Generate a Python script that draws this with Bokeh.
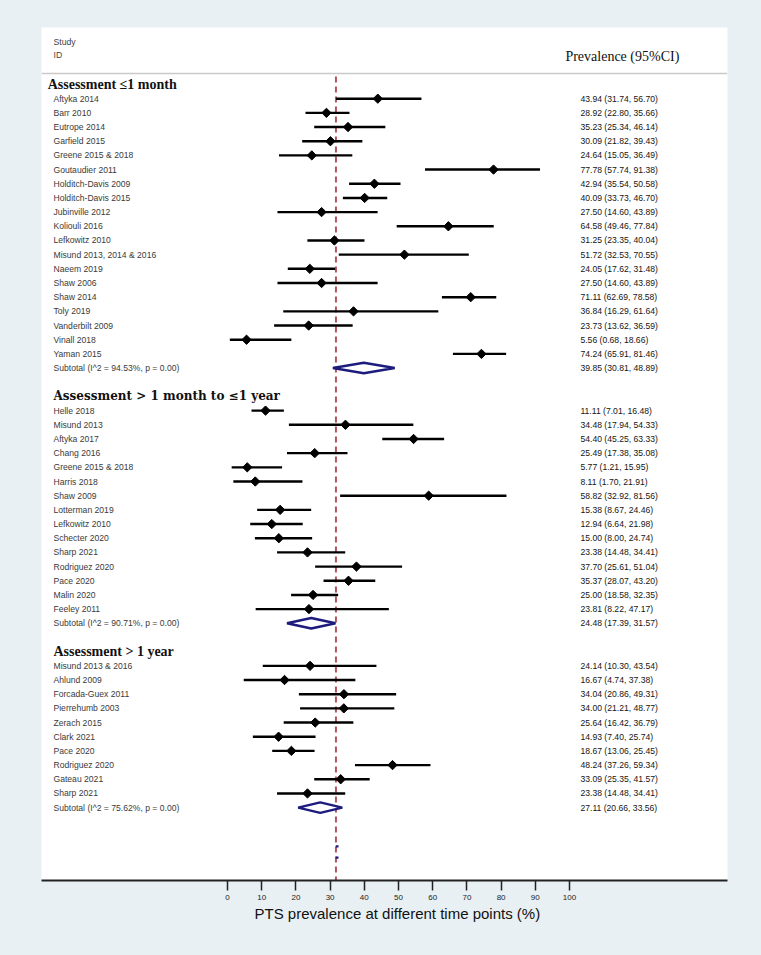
from bokeh.plotting import figure
from bokeh.models import ColumnDataSource, Range1d, FixedTicker, Span, Title
from bokeh.core.properties import value
from bokeh.embed import file_html
from bokeh.resources import INLINE

# ---------------- data ----------------
g1_title = "Assessment \u22641 month"
g1_study = ["Aftyka 2014", "Barr 2010", "Eutrope 2014", "Garfield 2015", "Greene 2015 & 2018",
            "Goutaudier 2011", "Holditch-Davis 2009", "Holditch-Davis 2015", "Jubinville 2012",
            "Koliouli 2016", "Lefkowitz 2010", "Misund 2013, 2014 & 2016", "Naeem 2019", "Shaw 2006",
            "Shaw 2014", "Toly 2019", "Vanderbilt 2009", "Vinall 2018", "Yaman 2015"]
g1_es = [43.94, 28.92, 35.23, 30.09, 24.64, 77.78, 42.94, 40.09, 27.50, 64.58, 31.25, 51.72,
         24.05, 27.50, 71.11, 36.84, 23.73, 5.56, 74.24]
g1_lo = [31.74, 22.80, 25.34, 21.82, 15.05, 57.74, 35.54, 33.73, 14.60, 49.46, 23.35, 32.53,
         17.62, 14.60, 62.69, 16.29, 13.62, 0.68, 65.91]
g1_hi = [56.70, 35.66, 46.14, 39.43, 36.49, 91.38, 50.58, 46.70, 43.89, 77.84, 40.04, 70.55,
         31.48, 43.89, 78.58, 61.64, 36.59, 18.66, 81.46]
g1_sub = [39.85, 30.81, 48.89]
g1_i2 = 94.53

g2_title = "Assessment > 1 month to \u22641 year"
g2_study = ["Helle 2018", "Misund 2013", "Aftyka 2017", "Chang 2016", "Greene 2015 & 2018",
            "Harris 2018", "Shaw 2009", "Lotterman 2019", "Lefkowitz 2010", "Schecter 2020",
            "Sharp 2021", "Rodriguez 2020", "Pace 2020", "Malin 2020", "Feeley 2011"]
g2_es = [11.11, 34.48, 54.40, 25.49, 5.77, 8.11, 58.82, 15.38, 12.94, 15.00, 23.38, 37.70,
         35.37, 25.00, 23.81]
g2_lo = [7.01, 17.94, 45.25, 17.38, 1.21, 1.70, 32.92, 8.67, 6.64, 8.00, 14.48, 25.61,
         28.07, 18.58, 8.22]
g2_hi = [16.48, 54.33, 63.33, 35.08, 15.95, 21.91, 81.56, 24.46, 21.98, 24.74, 34.41, 51.04,
         43.20, 32.35, 47.17]
g2_sub = [24.48, 17.39, 31.57]
g2_i2 = 90.71

g3_title = "Assessment > 1 year"
g3_study = ["Misund 2013 & 2016", "Ahlund 2009", "Forcada-Guex 2011", "Pierrehumb 2003",
            "Zerach 2015", "Clark 2021", "Pace 2020", "Rodriguez 2020", "Gateau 2021", "Sharp 2021"]
g3_es = [24.14, 16.67, 34.04, 34.00, 25.64, 14.93, 18.67, 48.24, 33.09, 23.38]
g3_lo = [10.30, 4.74, 20.86, 21.21, 16.42, 7.40, 13.06, 37.26, 25.35, 14.48]
g3_hi = [43.54, 37.38, 49.31, 48.77, 36.79, 25.74, 25.45, 59.34, 41.57, 34.41]
g3_sub = [27.11, 20.66, 33.56]
g3_i2 = 75.62

overall_es = 31.7
x_ticks = [0, 10, 20, 30, 40, 50, 60, 70, 80, 90, 100]
x_title = "PTS prevalence at different time points (%)"

# ---------------- layout ----------------
BG = "#E8F0F3"
NAVY = "#1D1C7E"
groups = [
    (g1_title, g1_study, g1_es, g1_lo, g1_hi, g1_sub, g1_i2),
    (g2_title, g2_study, g2_es, g2_lo, g2_hi, g2_sub, g2_i2),
    (g3_title, g3_study, g3_es, g3_lo, g3_hi, g3_sub, g3_i2),
]

st = dict(y=[], es=[], lo=[], hi=[], name=[], txt=[])
sub = dict(y=[], name=[], txt=[], xs=[], ys=[])
head_y = []
k = 0
H = 0.37
for title, names, es, lo, hi, s, i2 in groups:
    head_y.append(k)
    k += 1
    for n, e, l, h in zip(names, es, lo, hi):
        st["y"].append(k); st["es"].append(e); st["lo"].append(l); st["hi"].append(h)
        st["name"].append(n); st["txt"].append(f"{e:.2f} ({l:.2f}, {h:.2f})")
        k += 1
    sub["y"].append(k)
    sub["name"].append(f"Subtotal  (I^2 = {i2:.2f}%, p = 0.00)")
    sub["txt"].append(f"{s[0]:.2f} ({s[1]:.2f}, {s[2]:.2f})")
    sub["xs"].append([s[1], s[0], s[2], s[0]])
    sub["ys"].append([k, k - H, k, k + H])
    k += 2

src = ColumnDataSource(st)
ssrc = ColumnDataSource(sub)

Y_BOTTOM = 56.14
Y_TOP = -4.02

p = figure(width=761, height=955, output_backend="svg", toolbar_location=None,
           x_range=Range1d(-54.4, 146.2), y_range=Range1d(Y_BOTTOM, Y_TOP),
           y_axis_location=None, x_axis_location="below")
p.min_border_left = 41
p.min_border_right = 34
p.min_border_top = 27
p.min_border_bottom = 75
p.background_fill_color = "white"
p.border_fill_color = BG
p.outline_line_color = None
p.grid.visible = False

# header separator
p.add_layout(Span(location=-0.78, dimension="width", line_color="#C9C9C9", line_width=1.5))

# overall dashed line
p.segment(x0=[overall_es], x1=[overall_es], y0=[-0.56], y1=[Y_BOTTOM + 0.5],
          line_color="#B5535E", line_width=2, line_dash="6 4")

# CIs and points
p.segment(x0="lo", x1="hi", y0="y", y1="y", source=src, line_color="black", line_width=2.4)
p.scatter(x="es", y="y", source=src, marker="square", angle=0.785398, size=6.6,
          fill_color="black", line_color="black", line_width=1)

# subtotal diamonds
p.patches(xs="xs", ys="ys", source=ssrc, fill_color="white", line_color=NAVY, line_width=2.5)

# small overall marks at the bottom
p.rect(x=[overall_es + 0.35, overall_es + 0.35], y=[53.74, 54.52], width=0.8, height=0.16,
       fill_color=NAVY, line_color=None)

LX = -50.9
VX = 103.2
f_sans = value("Liberation Sans")
p.text(x=LX, y="y", text="name", source=src, text_font=f_sans, text_font_size="8.6px",
       text_color="#3a3a3a", text_baseline="middle", text_align="left")
p.text(x=LX, y="y", text="name", source=ssrc, text_font=f_sans, text_font_size="8.6px",
       text_color="#3a3a3a", text_baseline="middle", text_align="left")
p.text(x=VX, y="y", text="txt", source=src, text_font=f_sans, text_font_size="8.6px",
       text_color="#151515", text_baseline="middle", text_align="left")
p.text(x=VX, y="y", text="txt", source=ssrc, text_font=f_sans, text_font_size="8.6px",
       text_color="#151515", text_baseline="middle", text_align="left")

# column headers
p.text(x=[LX, LX], y=[-3.03, -2.05], text=["Study", "ID"], text_font=f_sans,
       text_font_size="8.7px", text_color="#444444", text_baseline="middle")
p.text(x=[98.8], y=[-1.97], text=["Prevalence (95%CI)"], text_font=value("Liberation Serif"),
       text_font_size="14px", text_color="#111111", text_baseline="middle")

# group headers
p.text(x=[-52.6], y=[head_y[0]], text=[g1_title], text_font=value("Liberation Serif"),
       text_font_style="bold", text_font_size="14px", text_color="#111111", text_baseline="middle")
p.text(x=[LX], y=[head_y[1]], text=[g2_title], text_font=value("DejaVu Serif"),
       text_font_style="bold", text_font_size="12px", text_color="#111111", text_baseline="middle")
p.text(x=[LX], y=[head_y[2]], text=[g3_title], text_font=value("Liberation Serif"),
       text_font_style="bold", text_font_size="14px", text_color="#111111", text_baseline="middle")

# axis
ax = p.xaxis[0]
ax.ticker = FixedTicker(ticks=x_ticks)
ax.axis_line_width = 2
ax.axis_line_color = "#222222"
ax.major_tick_out = 10
ax.major_tick_in = 0
ax.major_tick_line_width = 1.5
ax.major_tick_line_color = "#222222"
ax.minor_tick_line_color = None
ax.major_label_text_font = "Liberation Sans"
ax.major_label_text_font_size = "8px"
ax.major_label_text_color = "#222222"
ax.major_label_standoff = 4

# axis title, placed under the 0-100 tick span
p.add_layout(Title(text=x_title, align="left", offset=213, standoff=1,
                   text_font="Liberation Sans", text_font_size="15px",
                   text_font_style="normal", text_color="#111111"), "below")

html = file_html(p, INLINE)
style = ("<style>html, body {margin:0 !important; padding:0 !important; "
         "background-color:%s !important; overflow:hidden;}</style>" % BG)
html = html.replace("</head>", style + "\n</head>", 1)
open("out.html", "w").write(html)
